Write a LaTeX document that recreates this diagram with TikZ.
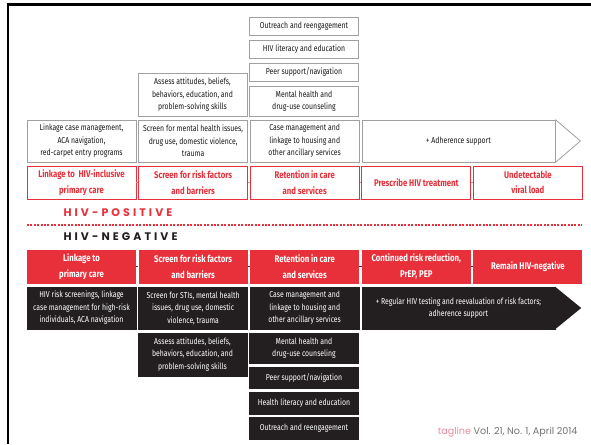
\documentclass[tikz,border=0pt]{standalone}
\usepackage{fontspec}
\setmainfont{Fira Sans}[FakeStretch=0.8]
\newfontfamily\headfont{Poppins}
\usetikzlibrary{positioning, calc}
\definecolor{tagred}{HTML}{E8303A}
\definecolor{boxgray}{HTML}{A0A0A0}
\definecolor{boxblack}{HTML}{231F20}
\definecolor{tagpink}{HTML}{F08CA0}

\begin{document}
\begin{tikzpicture}[
    x=1pt, y=-1pt,
    box/.style={rectangle, minimum width=109pt, align=center, inner sep=1pt, font=\fontsize{8.6}{12.5}\selectfont},
    graybox/.style={box, draw=boxgray, line width=0.8pt, text=black!90},
    blackbox/.style={box, fill=boxblack, draw=boxblack, text=white},
    posstep/.style={box, draw=tagred, line width=0.8pt, text=tagred, minimum height=33pt, font=\fontsize{9.7}{15.5}\selectfont\bfseries},
    negstep/.style={box, fill=tagred, text=white, minimum height=34pt, font=\fontsize{9.7}{15.5}\selectfont\bfseries},
    poslink/.style={draw=tagred!60, line width=0.6pt},
    neglink/.style={draw=tagred!60!black, line width=0.6pt},
    header/.style={font=\headfont\bfseries\fontsize{11}{13}\selectfont\addfontfeature{LetterSpace=28}, anchor=west},
    node distance=111.6pt
]

    % Rahmen
    \useasboundingbox (0,0) rectangle (591,444);
    \fill[white] (0,0) rectangle (591,444);
    \draw[line width=2.7pt] (7,4.5) -- (591,4.5);
    \draw[line width=2.5pt] (8,3.2) -- (8,444);

    % HIV-positiv: Schritte
    \node[posstep] (pos1) at (81.5,182.5) {Linkage to \ HIV-inclusive\\primary care};
    \node[posstep, right of=pos1] (pos2) {Screen for risk factors\\and barriers};
    \node[posstep, right of=pos2] (pos3) {Retention in care\\and services};
    \node[posstep, right of=pos3] (pos4) {Prescribe HIV treatment};
    \node[posstep, right of=pos4] (pos5) {Undetectable\\viral load};

    \draw[poslink] (pos1) -- (pos2);
    \draw[poslink] (pos2) -- (pos3);
    \draw[poslink] (pos3) -- (pos4);
    \draw[poslink] (pos4) -- (pos5);

    % HIV-positiv: Dienste
    \node[graybox, minimum height=42pt] (pserv1) at (81.5,141) {Linkage case management,\\ACA navigation,\\red-carpet entry programs};
    \node[graybox, minimum height=42pt, right of=pserv1] (pserv2) {Screen for mental health issues,\\drug use, domestic violence,\\trauma};
    \node[graybox, minimum height=42pt, right of=pserv2] (pserv3) {Case management and\\linkage to housing and\\other ancillary services};
    \node[graybox, minimum height=43pt] (passess) at (192.5,95) {Assess attitudes, beliefs,\\behaviors, education, and\\problem-solving skills};
    \node[graybox, minimum height=30pt] (pmental) at (304,101) {Mental health and\\drug-use counseling};
    \node[graybox, minimum height=18pt] (ppeer) at (304,72) {Peer support/navigation};
    \node[graybox, minimum height=18pt] (pliteracy) at (304,49) {HIV literacy and education};
    \node[graybox, minimum height=18pt] (poutreach) at (304,26) {Outreach and reengagement};
    \node[graybox, minimum width=193pt, minimum height=42pt] (padhere) at (458.5,141) {+ Adherence support};
    \draw[boxgray, line width=0.8pt, line join=round] (padhere.north east) -- ($(padhere.east)+(25,0)$) -- (padhere.south east);

    % Trennlinie
    \node[header, text=tagred] (posttl) at (60,213) {HIV-POSITIVE};
    \coordinate (sepL) at (27,225);
    \coordinate (sepR) at (582,225);
    \draw[tagred, line width=2pt, dash pattern=on 2pt off 1.4pt] (sepL) -- (sepR);
    \node[header, text=boxblack] (negttl) at (60,237) {HIV-NEGATIVE};

    % HIV-negativ: Schritte
    \node[negstep] (neg1) at (81.5,266.5) {Linkage to\\primary care};
    \node[negstep, right of=neg1] (neg2) {Screen for risk factors\\and barriers};
    \node[negstep, right of=neg2] (neg3) {Retention in care\\and services};
    \node[negstep, right of=neg3] (neg4) {Continued risk reduction,\\PrEP, PEP};
    \node[negstep, right of=neg4] (neg5) {Remain HIV-negative};

    \draw[neglink] (neg1) -- (neg2);
    \draw[neglink] (neg2) -- (neg3);
    \draw[neglink] (neg3) -- (neg4);
    \draw[neglink] (neg4) -- (neg5);

    % HIV-negativ: Dienste
    \node[blackbox, minimum height=42pt] (nserv1) at (81.5,308) {HIV risk screenings, linkage\\case management for high-risk\\individuals, ACA navigation};
    \node[blackbox, minimum height=42pt, right of=nserv1] (nserv2) {Screen for STIs, mental health\\issues, drug use, domestic\\violence, trauma};
    \node[blackbox, minimum height=42pt, right of=nserv2] (nserv3) {Case management and\\linkage to housing and\\other ancillary services};
    \node[blackbox, minimum height=43pt] (nassess) at (192.5,354.5) {Assess attitudes, beliefs,\\behaviors, education, and\\problem-solving skills};
    \node[blackbox, minimum height=30pt] (nmental) at (304,348) {Mental health and\\drug-use counseling};
    \node[blackbox, minimum height=21pt] (npeer) at (304,377.5) {Peer support/navigation};
    \node[blackbox, minimum height=22pt] (nliteracy) at (304,403) {Health literacy and education};
    \node[blackbox, minimum height=22pt] (noutreach) at (304,428) {Outreach and reengagement};
    \node[blackbox, minimum width=193pt, minimum height=42pt] (nadhere) at (458.5,308) {+ Regular HIV testing and reevaluation of risk factors;\\adherence support};
    \fill[boxblack] (nadhere.north east) -- ($(nadhere.east)+(26,0)$) -- (nadhere.south east) -- cycle;

    % Quelle
    \node[anchor=east, font=\headfont\fontsize{9.6}{11}\selectfont, text=black!55] (credit) at (581,432) {\textcolor{tagpink}{tagline} Vol. 21, No. 1, April 2014};

\end{tikzpicture}
\end{document}
